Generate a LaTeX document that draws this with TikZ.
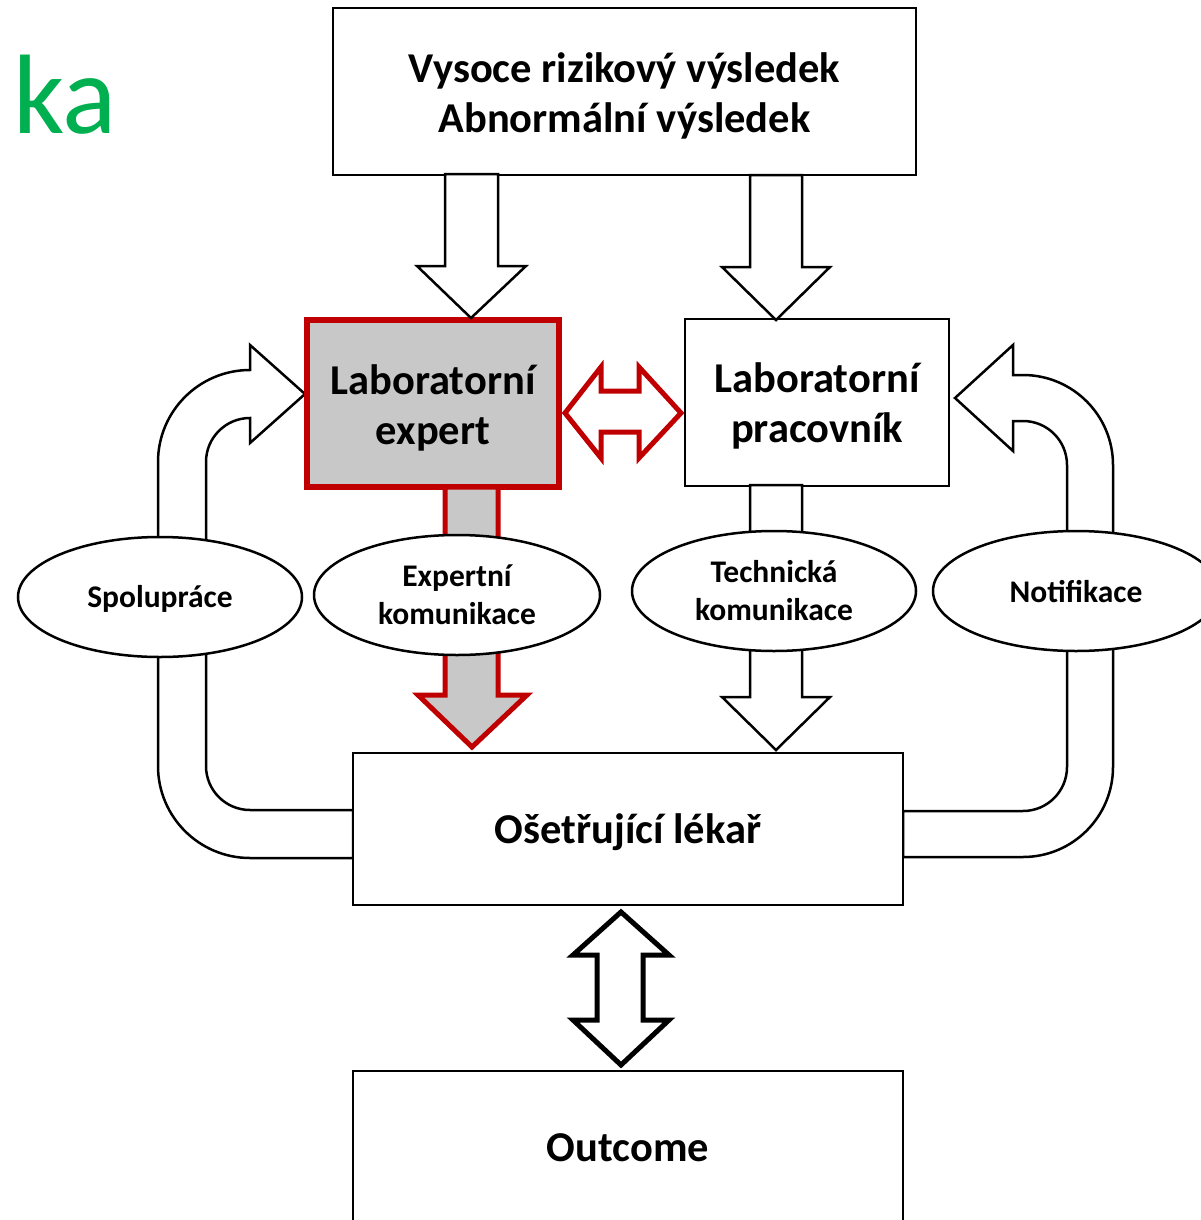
\documentclass[tikz,border=0pt]{standalone}
\usepackage{fontspec}
\setmainfont{Carlito}
\usetikzlibrary{shapes.geometric}
\definecolor{dkred}{HTML}{C00000}
\definecolor{boxgray}{HTML}{C8C8C8}
\definecolor{titlegreen}{HTML}{00B050}
\newcommand\diagbig{\fontsize{42.5}{50}\selectfont\bfseries}
\newcommand\diagsmall{\fontsize{31.5}{38}\selectfont\bfseries}
\tikzset{
  box/.style={draw=black, line width=2.5pt, fill=white, inner sep=0pt},
  expertbox/.style={draw=dkred, line width=6pt, fill=boxgray, inner sep=0pt},
  boxtext/.style={align=center, font=\diagbig, inner sep=0pt},
  oval/.style={ellipse, draw=black, line width=2.5pt, fill=white, inner sep=0pt, minimum height=120pt},
  ovaltext/.style={align=center, font=\diagsmall, inner sep=0pt},
  blockarrow/.style={draw=black, line width=2.5pt, fill=white, line join=miter},
  redarrow/.style={draw=dkred, line width=5pt, line join=miter},
  thickarrow/.style={draw=black, line width=5pt, fill=white, line join=miter},
}
\begin{document}
\begin{tikzpicture}[x=1pt,y=-1pt]
\useasboundingbox (0,0) rectangle (1201,1220);
\clip (0,0) rectangle (1201,1220);

% title fragment
\node[anchor=base west, inner sep=0pt, text=titlegreen, font=\fontsize{113}{120}\selectfont] (title) at (13,133) {ka};

% left U-turn band (Ošetřující lékař -> Spolupráce -> Laboratorní expert)
\draw[blockarrow] (353,858) -- (250,858) arc[start angle=270,end angle=180,radius=92pt]
  -- (158,462) arc[start angle=180,end angle=90,radius=92pt]
  -- (250,345) -- (305,394) -- (250,443) -- (250,418)
  arc[start angle=90,end angle=180,radius=44pt]
  -- (206,766) arc[start angle=180,end angle=270,radius=44pt]
  -- (353,810) -- cycle;

% right U-turn band (Ošetřující lékař -> Notifikace -> Laboratorní pracovník)
\draw[blockarrow] (903,857) -- (1023,857) arc[start angle=270,end angle=360,radius=90pt]
  -- (1113,465) arc[start angle=0,end angle=90,radius=90pt]
  -- (1013,375) -- (1013,345) -- (955,398) -- (1013,451) -- (1013,421) -- (1023,421)
  arc[start angle=90,end angle=0,radius=44pt]
  -- (1067,767) arc[start angle=0,end angle=-90,radius=44pt]
  -- (903,811) -- cycle;

% boxes
\node[box, minimum width=583pt, minimum height=167pt] (top) at (624.5,91.5) {};
\node[boxtext] (toptext) at ([yshift=-4pt]top.center) {Vysoce rizikový výsledek\\Abnormální výsledek};
\node[expertbox, minimum width=252pt, minimum height=167pt] (expert) at (433,403.5) {};
\node[boxtext] (experttext) at ([yshift=-4pt]expert.center) {Laboratorní\\expert};
\node[box, minimum width=264pt, minimum height=167pt] (worker) at (817,402.5) {};
\node[boxtext] (workertext) at ([yshift=-3pt]worker.center) {Laboratorní\\pracovník};
\node[box, minimum width=550pt, minimum height=152pt] (doctor) at (628,829) {};
\node[boxtext] (doctortext) at ([yshift=-3pt]doctor.center) {Ošetřující lékař};
\node[box, minimum width=550pt, minimum height=168pt] (outcome) at (628,1155) {};
\node[boxtext] (outcometext) at (628,1148) {Outcome};

% straight block arrows
\draw[blockarrow] (445,174) -- (445,266) -- (417,266) -- (471,318) -- (526,266) -- (498,266) -- (498,174) -- cycle;
\draw[blockarrow] (750,175) -- (750,267) -- (722,267) -- (776,320) -- (830,267) -- (802,267) -- (802,175) -- cycle;
\draw[blockarrow] (750,485) -- (750,697) -- (722,697) -- (776,750) -- (830,697) -- (802,697) -- (802,485) -- cycle;
\draw[redarrow, fill=boxgray] (445,487) -- (445,695) -- (418,695) -- (472,747) -- (527,695) -- (498,695) -- (498,487) -- cycle;
\draw[redarrow, fill=white] (565,413) -- (601,367) -- (601,391) -- (639,391) -- (639,367) -- (681,413)
  -- (639,458) -- (639,432) -- (601,432) -- (601,458) -- cycle;
\draw[thickarrow] (621,912) -- (669,955) -- (643,955) -- (643,1020) -- (669,1020) -- (621,1065)
  -- (573,1020) -- (597,1020) -- (597,955) -- (573,955) -- cycle;

% ellipses
\node[oval, minimum width=284pt] (spoluprace) at (160,597) {};
\node[ovaltext] (spolupracetext) at ([yshift=-2pt]spoluprace.center) {Spolupráce};
\node[oval, minimum width=286pt] (expertkom) at (457,595) {};
\node[ovaltext] (expertkomtext) at (expertkom.center) {Expertní\\komunikace};
\node[oval, minimum width=284pt] (techkom) at (774,591) {};
\node[ovaltext] (techkomtext) at (techkom.center) {Technická\\komunikace};
\node[oval, minimum width=286pt] (notif) at (1076,591) {};
\node[ovaltext] (notiftext) at ([yshift=-1pt]notif.center) {Notifikace};
\end{tikzpicture}
\end{document}
